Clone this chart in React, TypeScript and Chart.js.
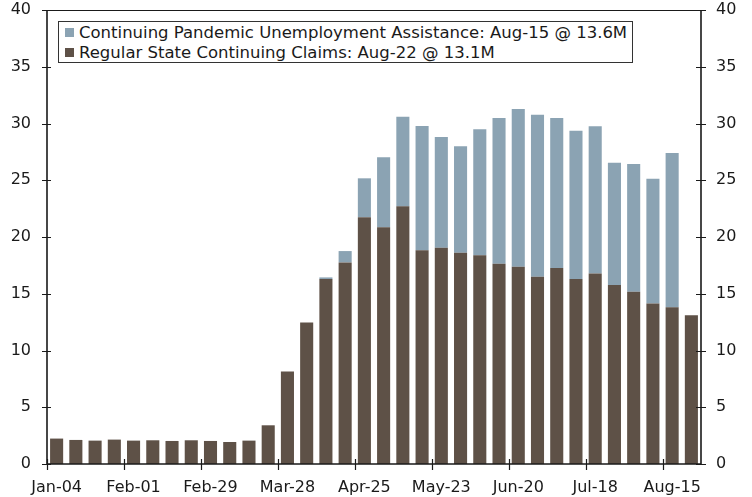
import { useEffect, useRef } from 'react';
import { Chart, registerables } from 'chart.js';

Chart.register(...registerables);

// Week-ending dates, 2020
const weeks = [
  'Jan-04', 'Jan-11', 'Jan-18', 'Jan-25',
  'Feb-01', 'Feb-08', 'Feb-15', 'Feb-22', 'Feb-29',
  'Mar-07', 'Mar-14', 'Mar-21', 'Mar-28',
  'Apr-04', 'Apr-11', 'Apr-18', 'Apr-25',
  'May-02', 'May-09', 'May-16', 'May-23', 'May-30',
  'Jun-06', 'Jun-13', 'Jun-20', 'Jun-27',
  'Jul-04', 'Jul-11', 'Jul-18', 'Jul-25',
  'Aug-01', 'Aug-08', 'Aug-15', 'Aug-22',
];

// Labelled weeks on the x axis
const xTickLabels = ['Jan-04', 'Feb-01', 'Feb-29', 'Mar-28', 'Apr-25', 'May-23', 'Jun-20', 'Jul-18', 'Aug-15'];

// Millions of claims
const regularState = [
  2.24, 2.12, 2.06, 2.15, 2.06, 2.09, 2.03, 2.09, 2.03, 1.94, 2.06, 3.41,
  8.15, 12.47, 16.29, 17.76, 21.75, 20.85, 22.72, 18.84, 19.05, 18.61, 18.4,
  17.64, 17.37, 16.49, 17.26, 16.31, 16.79, 15.78, 15.17, 14.14, 13.8, 13.1,
];

const pandemicAssistance = [
  null, null, null, null, null, null, null, null, null, null, null, null,
  null, null, 0.15, 1.0, 3.42, 6.17, 7.88, 10.94, 9.76, 9.38, 11.09,
  12.84, 13.91, 14.29, 13.22, 13.06, 12.96, 10.76, 11.26, 10.99, 13.6, null,
];

const yTicks = [0, 5, 10, 15, 20, 25, 30, 35, 40];

const legendItems = [
  { label: 'Continuing Pandemic Unemployment Assistance: Aug-15 @ 13.6M', color: '#8ba3b3' },
  { label: 'Regular State Continuing Claims: Aug-22 @ 13.1M', color: '#5e5147' },
];

const FONT = "'DejaVu Sans', Verdana, sans-serif";
const INK = '#1a1a1a';

// Draws the box frame and the tick marks that cross each axis line
const framePlugin = {
  id: 'frameTicks',
  afterDatasetsDraw(chart: any) {
    const { ctx, chartArea: a, scales } = chart;
    const x = scales.x;
    const y = scales.y;
    ctx.save();
    ctx.strokeStyle = INK;
    ctx.lineCap = 'butt';

    ctx.lineWidth = 1;
    ctx.beginPath();
    ctx.moveTo(a.left, a.top + 0.5);
    ctx.lineTo(a.right, a.top + 0.5);
    ctx.stroke();

    ctx.lineWidth = 1.6;
    ctx.beginPath();
    ctx.moveTo(a.left, a.top);
    ctx.lineTo(a.left, a.bottom);
    ctx.lineTo(a.right, a.bottom);
    ctx.lineTo(a.right, a.top);
    ctx.stroke();

    ctx.lineWidth = 1.2;
    ctx.beginPath();
    yTicks.forEach((v) => {
      const py = Math.round(y.getPixelForValue(v)) + 0.5;
      ctx.moveTo(a.left - 5, py);
      ctx.lineTo(a.left + 4, py);
      ctx.moveTo(a.right - 5, py);
      ctx.lineTo(a.right + 5, py);
    });
    weeks.forEach((w, i) => {
      if (!xTickLabels.includes(w)) return;
      const px = Math.round(x.getPixelForValue(i - 0.5)) + 0.5;
      ctx.moveTo(px, a.bottom - 5);
      ctx.lineTo(px, a.bottom + 6);
    });
    ctx.stroke();
    ctx.restore();
  },
};

const fitVertical = (width: number) => (s: any) => {
  s.width = width;
  s.paddingTop = 0;
  s.paddingBottom = 0;
};

export default function App() {
  const canvasRef = useRef<HTMLCanvasElement | null>(null);

  useEffect(() => {
    if (!canvasRef.current) return;
    const chart = new Chart(canvasRef.current, {
      type: 'bar',
      data: {
        labels: weeks,
        datasets: [
          {
            label: legendItems[1].label,
            data: regularState,
            backgroundColor: legendItems[1].color,
            barPercentage: 0.68,
            categoryPercentage: 1,
          },
          {
            label: legendItems[0].label,
            data: pandemicAssistance,
            backgroundColor: legendItems[0].color,
            barPercentage: 0.68,
            categoryPercentage: 1,
          },
        ],
      },
      options: {
        animation: false,
        responsive: false,
        maintainAspectRatio: false,
        layout: { padding: { top: 10, left: 0, right: 0, bottom: 0 } },
        plugins: {
          legend: { display: false },
          tooltip: { enabled: false },
        },
        scales: {
          x: {
            stacked: true,
            offset: true,
            grid: { display: false, drawTicks: false },
            border: { display: false },
            afterFit: (s: any) => { s.height = 33; s.paddingLeft = 0; s.paddingRight = 0; },
            ticks: {
              autoSkip: false,
              maxRotation: 0,
              padding: 14,
              color: INK,
              font: { family: FONT, size: 16 },
              callback: (_v: any, i: number) => (xTickLabels.includes(weeks[i]) ? weeks[i] : ''),
            },
          },
          y: {
            stacked: true,
            min: 0,
            max: 40,
            position: 'left',
            grid: { display: false, drawTicks: false },
            border: { display: false },
            afterFit: fitVertical(47),
            ticks: {
              stepSize: 5,
              padding: 16,
              color: INK,
              font: { family: FONT, size: 16 },
            },
          },
          y2: {
            min: 0,
            max: 40,
            position: 'right',
            grid: { display: false, drawTicks: false },
            border: { display: false },
            afterFit: fitVertical(51),
            ticks: {
              stepSize: 5,
              padding: 15,
              color: INK,
              font: { family: FONT, size: 16 },
            },
          },
        },
      },
      plugins: [framePlugin],
    });
    return () => chart.destroy();
  }, []);

  return (
    <div style={{ position: 'fixed', left: 0, top: 0, width: 752, height: 497, background: '#fff' }}>
      <canvas ref={canvasRef} width={752} height={497} style={{ display: 'block' }} />
      <div
        style={{
          position: 'absolute',
          left: 58,
          top: 21,
          width: 575,
          height: 42,
          boxSizing: 'border-box',
          border: '1px solid #333',
          background: '#fff',
          padding: '0 0 0 6px',
          fontFamily: FONT,
          fontSize: 16.5,
          color: INK,
        }}
      >
        {legendItems.map((it) => (
          <div key={it.label} style={{ display: 'flex', alignItems: 'center', height: 20, whiteSpace: 'nowrap' }}>
            <span style={{ display: 'inline-block', width: 9, height: 9, background: it.color, marginRight: 5, flex: 'none' }} />
            <span>{it.label}</span>
          </div>
        ))}
      </div>
    </div>
  );
}
